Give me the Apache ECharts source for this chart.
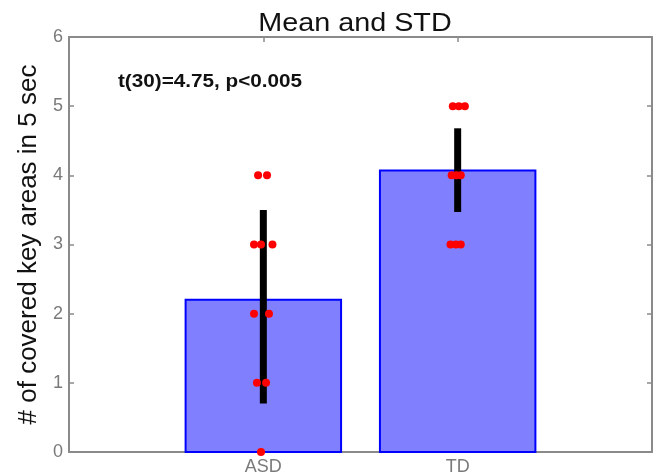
<!DOCTYPE html>
<html>
<head>
<meta charset="utf-8">
<script src="https://cdn.jsdelivr.net/npm/echarts@6/dist/echarts.min.js"></script>
<style>
html,body{margin:0;padding:0;background:#fff;}
#chart{width:659px;height:473px;}
</style>
</head>
<body>
<div id="chart"></div>
<script>
// ---- data ----
const groups = ['ASD', 'TD'];
const groupPos = [1, 2];
const xTickLabels = ['', 'ASD', 'TD', ''];
const means = [2.2, 4.07];
const errLow = [0.7, 3.47];
const errHigh = [3.5, 4.68];
const asdDotX = [0.973, 1.019, 0.952, 0.988, 1.047, 0.952, 1.029, 0.967, 1.014, 0.988];
const asdDotY = [4, 4, 3, 3, 3, 2, 2, 1, 1, 0];
const tdDotX = [1.975, 2.006, 2.037, 1.969, 1.993, 2.016, 1.963, 1.991, 2.016];
const tdDotY = [5, 5, 5, 4, 4, 4, 3, 3, 3];
const titleText = 'Mean and STD';
const statText = 't(30)=4.75, p<0.005';
const yLabel = '# of covered key areas in 5 sec';

const FONT = 'Liberation Sans, Arial, Helvetica, sans-serif';
const AXC = '#8a8a8a';

const chart = echarts.init(document.getElementById('chart'), null, {renderer: 'canvas'});

const barData = groups.map((g, i) => [groupPos[i], means[i]]);
const errData = groups.map((g, i) => [groupPos[i], errLow[i], errHigh[i]]);
const dots = asdDotX.map((x, i) => [x, asdDotY[i]]).concat(tdDotX.map((x, i) => [x, tdDotY[i]]));

function axisBase() {
  return {
    axisLine: {show: true, onZero: false, lineStyle: {color: AXC, width: 2}},
    axisTick: {show: true, inside: true, length: 5, lineStyle: {color: AXC, width: 1.5}},
    splitLine: {show: false}
  };
}

const option = {
  backgroundColor: '#fff',
  animation: false,
  grid: {left: 69, right: 7, top: 37, bottom: 21, containLabel: false, outerBoundsMode: 'none'},
  xAxis: [
    Object.assign(axisBase(), {
      type: 'value', min: 0, max: 3, interval: 1, position: 'bottom',
      axisLabel: {show: true, margin: 6, fontSize: 18, color: '#7a7a7a', fontFamily: FONT,
        formatter: v => xTickLabels[Math.round(v)] || ''}
    }),
    Object.assign(axisBase(), {
      type: 'value', min: 0, max: 3, interval: 1, position: 'top',
      axisLabel: {show: false}
    })
  ],
  yAxis: [
    Object.assign(axisBase(), {
      type: 'value', min: 0, max: 6, interval: 1, position: 'left',
      name: yLabel, nameLocation: 'middle', nameGap: 26,
      nameTextStyle: {fontSize: 26, color: '#111', fontFamily: FONT},
      axisLabel: {show: true, margin: 6, fontSize: 18, color: '#7a7a7a', fontFamily: FONT}
    }),
    Object.assign(axisBase(), {
      type: 'value', min: 0, max: 6, interval: 1, position: 'right',
      axisLabel: {show: false}
    })
  ],
  series: [
    {
      type: 'custom', name: 'mean', xAxisIndex: 0, yAxisIndex: 0, z: 2,
      data: barData,
      renderItem: function (params, api) {
        const x = api.value(0), y = api.value(1);
        const w = api.size([0.8, 0])[0];
        const top = api.coord([x, y]);
        const bot = api.coord([x, 0]);
        return {
          type: 'rect',
          shape: {x: top[0] - w / 2, y: top[1], width: w, height: bot[1] - top[1]},
          style: {fill: '#8080ff', stroke: '#0000ff', lineWidth: 2}
        };
      }
    },
    {
      type: 'custom', name: 'std', xAxisIndex: 0, yAxisIndex: 0, z: 3,
      data: errData,
      renderItem: function (params, api) {
        const x = api.value(0);
        const p1 = api.coord([x, api.value(1)]);
        const p2 = api.coord([x, api.value(2)]);
        return {
          type: 'line',
          shape: {x1: p1[0], y1: p1[1], x2: p2[0], y2: p2[1]},
          style: {stroke: '#000', lineWidth: 7}
        };
      }
    },
    {
      type: 'scatter', name: 'subjects', xAxisIndex: 0, yAxisIndex: 0, z: 4,
      data: dots, symbol: 'circle', symbolSize: 8,
      itemStyle: {color: '#ff0000', opacity: 1}
    }
  ],
  graphic: [
    {
      type: 'text', x: 355, y: 24, scaleX: 1.15, z: 10,
      style: {text: titleText, x: 0, y: 0, align: 'center', verticalAlign: 'middle',
        font: '25px ' + FONT, fill: '#111'}
    },
    {
      type: 'text', x: 210, y: 82.5, scaleX: 1.15, z: 10,
      style: {text: statText, x: 0, y: 0, align: 'center', verticalAlign: 'middle',
        font: 'bold 18px ' + FONT, fill: '#111'}
    }
  ]
};

chart.setOption(option);
</script>
</body>
</html>
